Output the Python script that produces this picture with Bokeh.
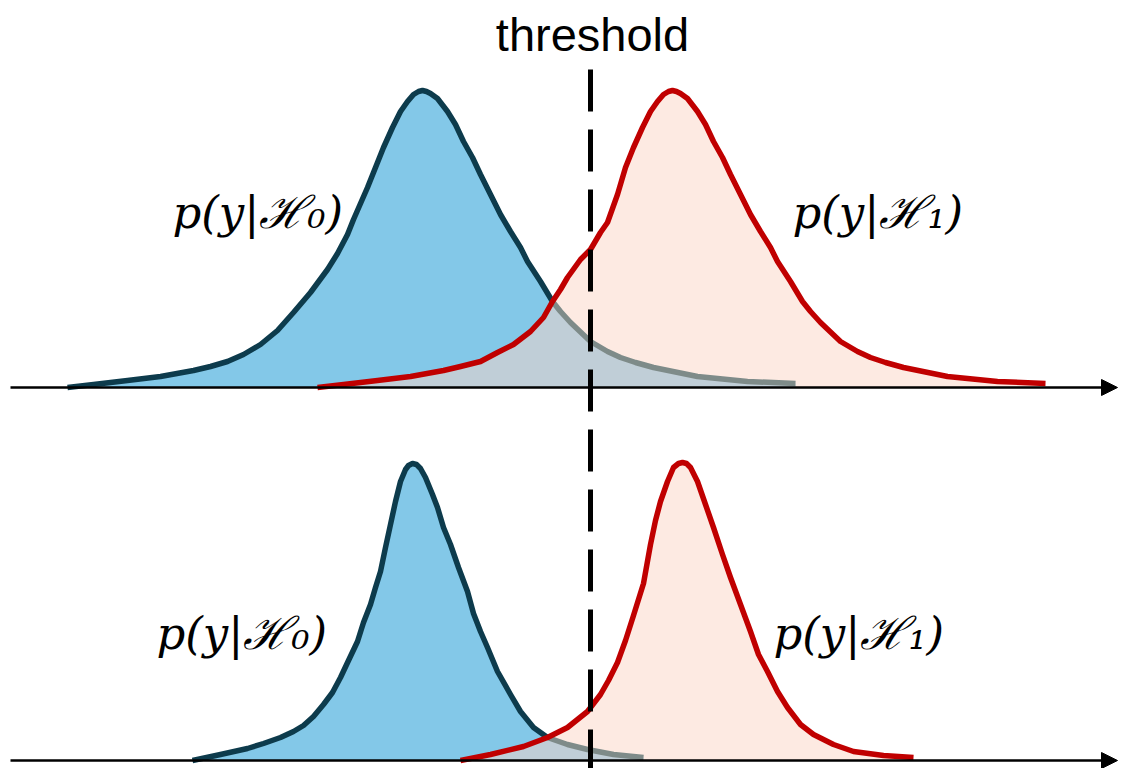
from bokeh.plotting import figure
from bokeh.models import Range1d, Arrow, NormalHead
from bokeh.core.properties import value
from bokeh.embed import file_html
from bokeh.resources import INLINE

# ---------------- data ----------------
# top panel, H0 (observation value, density height)
x0_top = [67, 93, 127, 160, 193, 210, 227, 243, 260, 277, 293, 310, 327, 337, 347, 353, 360, 367, 375,
          383, 392, 400, 407, 413, 418, 422, 426, 430, 437, 447, 455, 463, 472, 480, 490, 500, 510,
          520, 527, 540, 552, 560, 570, 590, 607, 620, 635, 653, 697, 747, 795]
h0_top = [0, 3, 7, 11, 17, 21, 26, 33, 43, 57, 75, 95, 118, 134, 153, 168, 184, 200, 220,
          240, 260, 276, 286, 293, 296, 297, 296, 294, 289, 276, 263, 246, 230, 213, 193, 173, 156,
          140, 126, 106, 86, 76, 65, 46, 36, 30, 25, 20, 11, 6, 4]
# top panel, H1
x1_top = [317, 343, 377, 410, 443, 460, 480, 497, 513, 530, 543, 552, 560, 567, 580, 590, 600, 607,
          617, 625, 633, 642, 650, 657, 663, 668, 672, 676, 680, 687, 697, 705, 713, 722, 730, 740,
          750, 760, 770, 777, 790, 802, 810, 820, 840, 857, 870, 885, 903, 947, 997, 1045]
h1_top = [0, 3, 7, 11, 17, 21, 26, 35, 43, 56, 70, 86, 98, 110, 128, 138, 155, 165,
          193, 220, 240, 260, 276, 286, 293, 296, 297, 296, 294, 289, 276, 263, 246, 230, 213, 193,
          173, 156, 140, 126, 106, 86, 76, 65, 46, 36, 30, 25, 20, 11, 6, 4]
cross_top = 552

# bottom panel, H0
x0_bot = [192, 220, 247, 263, 280, 293, 303, 313, 323, 332, 340, 348, 357, 363, 370, 375, 380, 385,
          390, 395, 400, 405, 408, 412, 416, 420, 425, 432, 437, 443, 450, 458, 467, 473, 480, 487,
          497, 510, 520, 533, 547, 567, 587, 613, 643]
h0_bot = [0, 6, 12, 17, 23, 29, 35, 44, 56, 68, 83, 100, 119, 138, 156, 173, 189, 213,
          236, 259, 279, 291, 295, 297, 296, 292, 283, 266, 253, 233, 216, 193, 169, 147, 129, 113,
          89, 66, 49, 33, 23, 16, 11, 6, 3]
# bottom panel, H1
x1_bot = [460, 490, 523, 547, 567, 587, 600, 608, 617, 625, 633, 643, 650, 655, 660, 667, 673, 678,
          682, 686, 690, 697, 705, 713, 722, 730, 740, 750, 758, 767, 777, 787, 800, 813, 833, 853,
          883, 913]
h1_bot = [0, 6, 14, 23, 33, 49, 66, 80, 98, 120, 145, 177, 216, 240, 259, 279, 293, 297,
          298, 297, 293, 279, 256, 233, 206, 183, 156, 129, 106, 89, 69, 53, 36, 26, 16, 9,
          5, 3]
cross_bot = 547

threshold_x = 590
label_h0 = "p(y|\u210b\u2080)"
label_h1 = "p(y|\u210b\u2081)"

# ---------------- styling ----------------
C_H0_LINE = "#0d3b4c"
C_H0_FILL = "#83c8e8"
C_H1_LINE = "#c00000"
C_H1_FILL = "#fdeae2"
C_OV_FILL = "#c0ced7"
C_OV_LINE = "#7e8b89"
LW = 5.5

p = figure(width=1118, height=768, x_range=Range1d(0, 1118), y_range=Range1d(-381, 387),
           output_backend="svg", toolbar_location=None, min_border=0,
           x_axis_type=None, y_axis_type=None)
p.grid.visible = False
p.outline_line_color = None
p.background_fill_color = "white"
p.extra_y_ranges = {"bot": Range1d(-8, 760)}


def panel(x0, h0, x1, h1, cross, rname):
    kw = {} if rname is None else {"y_range_name": rname}
    i0 = x0.index(cross)
    i1 = x1.index(cross)
    # fills
    p.patch(x0 + [x0[-1]], h0 + [0], fill_color=C_H0_FILL, line_color=None, **kw)
    p.patch(x1 + [x1[-1]], h1 + [0], fill_color=C_H1_FILL, line_color=None, **kw)
    ovx = x1[:i1 + 1] + x0[i0 + 1:] + [x0[-1]]
    ovy = h1[:i1 + 1] + h0[i0 + 1:] + [0]
    p.patch(ovx, ovy, fill_color=C_OV_FILL, line_color=None, **kw)
    # lines
    p.line(x0[:i0 + 1], h0[:i0 + 1], line_color=C_H0_LINE, line_width=LW, line_join="round", **kw)
    p.line(x0[i0:], h0[i0:], line_color=C_OV_LINE, line_width=LW, line_join="round", **kw)
    p.line(x1, h1, line_color=C_H1_LINE, line_width=LW, line_join="round", **kw)
    # axis arrow
    arr = Arrow(end=NormalHead(size=16, fill_color="black", line_color="black", line_width=1),
                x_start=10, y_start=0, x_end=1117, y_end=0, line_width=2.5, line_color="black", **kw)
    p.add_layout(arr)


panel(x0_top, h0_top, x1_top, h1_top, cross_top, None)
panel(x0_bot, h0_bot, x1_bot, h1_bot, cross_bot, "bot")

# threshold dashed line
p.segment(x0=[threshold_x], y0=[318], x1=[threshold_x], y1=[-381], line_color="black",
          line_width=5, line_dash="42 18")

# texts
p.text(x=[592], y=[353], text=["threshold"], text_font=value("Liberation Sans"),
       text_font_size="47px", text_align="center", text_baseline="alphabetic", text_color="black")

lab_font = value("DejaVu Serif")
p.text(x=[172, 792], y=[175, 175], text=[label_h0, label_h1], text_font=lab_font,
       text_font_style="italic", text_font_size="45px", text_align="left",
       text_baseline="alphabetic", text_color="black")
p.text(x=[156, 773], y=[127, 127], text=[label_h0, label_h1], text_font=lab_font,
       text_font_style="italic", text_font_size="45px", text_align="left",
       text_baseline="alphabetic", text_color="black", y_range_name="bot")

open("out.html", "w").write(file_html(p, INLINE))
